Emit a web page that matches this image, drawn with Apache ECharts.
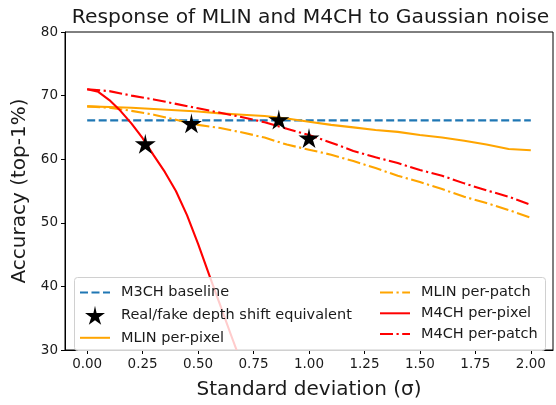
<!DOCTYPE html>
<html>
<head>
<meta charset="utf-8">
<script src="https://cdn.jsdelivr.net/npm/echarts@6/dist/echarts.min.js"></script>
<style>html,body{margin:0;padding:0;background:#fff}#c{width:556px;height:405px}</style>
</head>
<body>
<div id="c"></div>
<script>
// ---- data ----
const sigma = [0,0.1,0.2,0.3,0.4,0.5,0.6,0.7,0.8,0.9,1.0,1.1,1.2,1.3,1.4,1.5,1.6,1.7,1.8,1.9,2.0];
const m3chBaseline = 66.1;
const mlinPerPixel = [68.3,68.2,68.1,67.9,67.7,67.5,67.2,67.0,66.8,66.4,65.9,65.4,65.0,64.6,64.3,63.8,63.4,62.9,62.3,61.6,61.4];
const mlinPerPatch = [68.3,68.1,67.6,67.0,66.2,65.4,64.9,64.2,63.4,62.3,61.5,60.7,59.7,58.6,57.4,56.4,55.3,54.1,53.1,52.0,50.8];
const m4chPerPatch = [71.0,70.7,70.0,69.4,68.7,68.0,67.3,66.6,65.8,64.8,63.8,62.6,61.3,60.3,59.4,58.3,57.4,56.2,55.1,54.1,52.8];
const m4chPixelSigma = [0,0.05,0.1,0.15,0.2,0.25,0.3,0.35,0.4,0.45,0.5,0.55,0.6,0.65,0.7];
const m4chPerPixel = [71.0,70.6,69.3,67.6,65.6,63.3,60.6,58.0,55.0,51.2,46.7,41.8,37.0,32.2,27.5];
const starSigma = [0.262,0.47,0.864,1.0];
const starAcc = [62.6,65.8,66.4,63.5];
const xTicks = [0,0.25,0.5,0.75,1.0,1.25,1.5,1.75,2.0];
const names = ['M3CH baseline','Real/fake depth shift equivalent','MLIN per-pixel','MLIN per-patch','M4CH per-pixel','M4CH per-patch'];

const zip = (xs, ys) => xs.map((x, i) => [x, ys[i]]);
const STAR = 'path://M50 0 L57.45 34.55 L97.55 34.55 L68.15 55.9 L79.4 90.45 L50 69.1 L20.6 90.45 L31.85 55.9 L2.45 34.55 L42.55 34.55 Z';
const DASH = [8, 3.5];
const DASHDOT = [13, 3.5, 2.2, 3.5];
const FONT = 'DejaVu Sans';
const TXT = '#1a1a1a';
const LW = 2.1;

const chart = echarts.init(document.getElementById('c'), null, {renderer: 'canvas'});
const lineS = (name, data, color, type) => ({
  name, type: 'line', data, symbol: 'none', smooth: false, clip: true,
  lineStyle: {color, width: LW, type}, itemStyle: {color}, z: 3
});
const lineItem = n => ({name: n, itemStyle: {opacity: 0}});
const legendBase = {
  orient: 'vertical', top: 285, padding: 0, itemWidth: 30, itemHeight: 19, itemGap: 5.5,
  textStyle: {fontFamily: FONT, fontSize: 14.5, color: TXT, padding: [0,0,0,6]}, z: 11
};
chart.setOption({
  animation: false,
  backgroundColor: '#fff',
  textStyle: {fontFamily: FONT},
  title: {
    text: 'Response of MLIN and M4CH to Gaussian noise',
    left: 305.5, top: 3, textAlign: 'center',
    textStyle: {fontFamily: FONT, fontSize: 20.3, fontWeight: 'normal', color: TXT}
  },
  grid: {left: 65, right: 3, top: 32, bottom: 51, show: true, borderColor: '#000', borderWidth: 1, backgroundColor: 'transparent'},
  xAxis: {
    type: 'value', min: -0.1, max: 2.1,
    name: 'Standard deviation (σ)', nameLocation: 'middle', nameGap: 30,
    nameTextStyle: {fontFamily: FONT, fontSize: 20, color: TXT},
    axisLine: {show: true, onZero: false, lineStyle: {color: '#000', width: 1}},
    axisTick: {show: true, length: 4, lineStyle: {color: '#000'}, customValues: xTicks},
    axisLabel: {fontFamily: FONT, fontSize: 13.5, color: TXT, margin: 7, customValues: xTicks, formatter: v => v.toFixed(2)},
    splitLine: {show: false}
  },
  yAxis: {
    type: 'value', min: 30, max: 80, interval: 10,
    name: 'Accuracy (top-1%)', nameLocation: 'middle', nameGap: 31,
    nameTextStyle: {fontFamily: FONT, fontSize: 20, color: TXT},
    axisLine: {show: true, onZero: false, lineStyle: {color: '#000', width: 1}},
    axisTick: {show: true, length: 4, lineStyle: {color: '#000'}},
    axisLabel: {fontFamily: FONT, fontSize: 13.5, color: TXT, margin: 7},
    splitLine: {show: false}
  },
  graphic: [{
    type: 'rect', left: 74, top: 277, z: 10,
    shape: {width: 471, height: 73, r: 3},
    style: {fill: 'rgba(255,255,255,0.8)', stroke: '#d0d0d0', lineWidth: 1}
  }],
  legend: [
    Object.assign({}, legendBase, {left: 79, data: [lineItem(names[0]), {name: names[1], icon: STAR}, lineItem(names[2])]}),
    Object.assign({}, legendBase, {left: 379, data: [lineItem(names[3]), lineItem(names[4]), lineItem(names[5])]})
  ],
  series: [
    lineS(names[0], zip([0, 2.0], [m3chBaseline, m3chBaseline]), '#1f77b4', DASH),
    {
      name: names[1], type: 'scatter', data: zip(starSigma, starAcc),
      symbol: STAR, symbolSize: [21, 20], symbolOffset: [0, 1],
      itemStyle: {color: '#000', opacity: 1}, z: 5
    },
    lineS(names[2], zip(sigma, mlinPerPixel), '#ffa500', 'solid'),
    lineS(names[3], zip(sigma, mlinPerPatch), '#ffa500', DASHDOT),
    lineS(names[4], zip(m4chPixelSigma, m4chPerPixel), '#ff0000', 'solid'),
    lineS(names[5], zip(sigma, m4chPerPatch), '#ff0000', DASHDOT)
  ]
});
</script>
</body>
</html>
